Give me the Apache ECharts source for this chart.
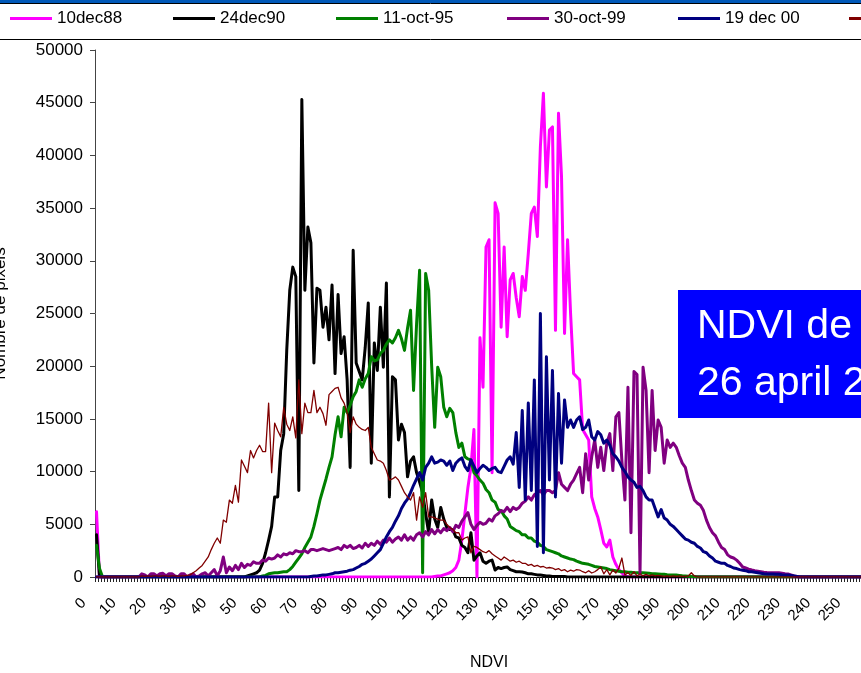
<!DOCTYPE html>
<html><head><meta charset="utf-8">
<script src="https://cdn.jsdelivr.net/npm/echarts@6/dist/echarts.min.js"></script>
<style>html,body{margin:0;padding:0;background:#fff;}#c{width:861px;height:673px;}</style>
</head><body><div id="c"></div>
<script>
// NDVI categories 0..255 (tick labels shown every 10)
const categories = [];
for (let i = 0; i < 256; i++) categories.push(String(i));

const seriesNames = ['10dec88', '24dec90', '11-oct-95', '30-oct-99', '19 dec 00', '26 april 02'];

const dec88 = [
6200,0,0,0,0,0,0,0,0,0,
0,0,0,0,0,0,0,0,0,0,
0,0,0,0,0,0,0,0,0,0,
0,0,0,0,0,0,0,0,0,0,
0,0,0,0,0,0,0,0,0,0,
0,0,0,0,0,0,0,0,0,0,
0,0,0,0,0,0,0,0,0,0,
0,0,0,0,0,0,0,0,0,0,
0,0,0,0,0,0,0,0,0,0,
0,0,0,0,0,0,0,0,0,0,
0,0,0,0,0,0,0,0,0,0,
0,0,50,100,100,200,300,400,600,900,
1600,3500,6000,8500,10400,14000,0,22700,18000,31300,
32000,9900,35500,34500,23700,31300,22800,28200,28800,26500,
24700,28500,27200,30700,34500,35100,32300,40800,45900,37000,
42400,42700,23400,44000,38000,23100,32000,25000,19300,19000,
18700,14000,13500,13000,7600,6500,5700,4500,3200,2850,
3500,1900,1200,700,380,100,0,0,0,0,
0,0,0,0,0,0,0,0,0,0,
0,0,0,0,0,0,0,0,0,0,
0,0,0,0,0,0,0,0,0,0,
0,0,0,0,0,0,0,0,0,0,
0,0,0,0,0,0,0,0,0,0,
0,0,0,0,0,0,0,0,0,0,
0,0,0,0,0,0,0,0,0,0,
0,0,0,0,0,0
];

const dec90 = [
4000,0,0,0,0,0,0,0,0,0,
0,0,0,0,0,0,0,0,0,0,
0,0,0,0,0,0,0,0,0,0,
0,0,0,0,0,0,0,0,0,0,
0,0,0,0,0,0,0,0,0,0,
100,200,300,400,660,1300,2300,3500,4800,7600,
7600,12000,13600,21500,27200,29400,28500,8200,45300,27200,
33200,31700,20300,27400,27200,23700,25600,22500,27700,19300,
26800,21200,22800,18700,10400,31000,20300,19500,18700,21800,
26000,10800,22200,19600,25600,19900,27900,7600,19000,18700,
13000,14500,13700,9500,11000,11400,9900,9000,8000,6000,
4200,7300,5500,4700,6600,5500,4700,4500,4500,3800,
3700,3000,2800,2300,4200,1600,2000,2300,1500,1300,
1500,1600,660,900,800,900,950,700,600,500,
500,470,400,300,300,250,200,190,150,100,
100,50,50,50,50,50,0,0,0,0,
0,0,0,0,0,0,0,0,0,0,
0,0,0,0,0,0,0,0,0,0,
0,0,0,0,0,0,0,0,0,0,
0,0,0,0,0,0,0,0,0,0,
0,0,0,0,0,0,0,0,0,0,
0,0,0,0,0,0,0,0,0,0,
0,0,0,0,0,0,0,0,0,0,
0,0,0,0,0,0,0,0,0,0,
0,0,0,0,0,0,0,0,0,0,
0,0,0,0,0,0
];

const oct95 = [
3000,800,0,0,0,0,0,0,0,0,
0,0,0,0,0,0,0,0,0,0,
0,0,0,0,0,0,0,0,0,0,
0,0,0,0,0,0,0,0,0,0,
0,0,0,0,0,0,0,0,0,0,
0,0,0,0,0,100,150,300,350,400,
400,450,500,500,700,1000,1400,1800,2200,2800,
3300,3800,4800,6000,7300,8300,9300,10400,11400,13500,
15200,13300,16100,15600,16300,17100,17600,18700,18000,18800,
19300,20900,20500,20600,21200,21500,22100,22500,22200,22700,
23400,22600,21500,23600,25300,17700,24000,29100,400,28800,
27200,20000,14200,19900,19000,16100,15200,16000,15600,13700,
12300,12700,11400,11200,11100,9900,9600,9200,8900,8300,
8000,7300,7100,6400,6300,5800,5500,4800,4600,4400,
4300,4000,4000,3700,3700,3400,3300,3000,2900,2600,
2500,2400,2300,2200,2000,1900,1800,1700,1650,1500,
1400,1300,1250,1200,1100,1000,950,900,850,800,
700,650,600,550,500,500,450,450,400,400,
400,400,380,350,300,300,280,250,250,220,
200,200,180,150,120,100,80,50,30,0,
0,0,0,0,0,0,0,0,0,0,
0,0,0,0,0,0,0,0,0,0,
0,0,0,0,0,0,0,0,0,0,
0,0,0,0,0,0,0,0,0,0,
0,0,0,0,0,0,0,0,0,0,
0,0,0,0,0,0
];

const oct99 = [
0,0,0,0,0,0,0,0,0,0,
0,0,0,0,0,300,200,0,300,300,
100,300,350,100,300,300,100,0,300,300,
0,200,300,0,100,300,400,100,400,700,
100,600,1900,400,950,600,1100,700,1300,900,
1200,1100,1450,1300,1300,1600,1500,1800,1700,1800,
2100,1900,2200,2100,2300,2200,2500,2400,2400,2500,
2300,2600,2600,2500,2600,2700,2600,2500,2600,2700,
2800,2600,3000,2800,3000,2700,2800,3000,2750,3200,
2900,3200,3000,3400,3100,3500,3300,3700,3300,3600,
3800,3500,4000,3500,3800,3500,4000,4200,3800,4300,
4000,4500,4100,4500,4200,4600,4400,4700,4300,4900,
4700,5300,5700,6100,5000,4500,4900,5200,5000,5100,
5500,5300,5800,6000,6300,6200,6600,6200,6600,6400,
6600,7000,7200,7600,7300,7800,8000,8200,7800,8200,
8200,8000,8200,9900,8800,8500,8200,8800,9200,9800,
10400,8000,11700,9200,11400,13000,10400,12300,10100,12700,
13600,10100,15200,15600,11000,7300,18000,4200,19500,19200,
400,19900,17700,9900,17700,12000,14900,14200,10800,13000,
12300,12700,12300,11500,10800,10400,9200,8200,7300,7000,
6800,6300,5400,4700,4200,3900,3300,2800,2600,2100,
1900,1800,1600,1300,950,850,750,660,600,550,
500,450,420,400,400,400,400,350,300,280,
200,100,50,0,0,0,0,0,0,0,
0,0,0,0,0,0,0,0,0,0,
0,0,0,0,0,0
];

const dec00 = [
0,0,0,0,0,0,0,0,0,0,
0,0,0,0,0,0,0,0,0,0,
0,0,0,0,0,0,0,0,0,0,
0,0,0,0,0,0,0,0,0,0,
0,0,0,0,0,0,0,0,0,0,
0,0,0,0,0,0,0,0,0,0,
0,0,0,0,0,0,0,0,0,0,
0,50,100,100,150,200,200,250,300,400,
400,450,500,550,650,700,850,1000,1200,1300,
1500,1700,2000,2300,2600,3200,3800,4300,4700,5300,
5800,6500,7000,7400,8000,8700,9300,9900,9200,10400,
10800,11400,10800,10900,11100,11000,10600,11000,10100,10800,
11100,11300,10500,10100,11100,10500,9900,10300,10600,10400,
10100,10300,10400,10000,9900,10500,11100,11400,10700,13700,
8500,15800,7300,16500,8200,18700,2900,25000,2300,20900,
9200,19600,7600,17400,10800,16800,14200,14900,14200,14900,
15200,14000,14200,14900,13300,13000,13800,13500,12700,13000,
12500,11700,11400,11000,10400,10000,9500,9200,9000,8500,
8600,8200,7600,7300,7300,6500,5700,6400,5600,5400,
5000,4800,4500,4200,3900,3600,3500,3300,3200,2900,
2750,2400,2300,2000,1800,1500,1400,1300,1300,1100,
1000,850,800,700,650,600,500,500,450,400,
350,300,280,280,280,250,250,220,200,200,
150,100,50,0,0,0,0,0,0,0,
0,0,0,0,0,0,0,0,0,0,
0,0,0,0,0,0
];

const apr02 = [
0,0,0,0,0,0,0,0,0,0,
0,0,0,0,0,100,50,100,50,100,
100,50,100,100,50,100,100,50,100,100,
150,200,400,600,850,1100,1500,1900,2600,3200,
3700,3200,5400,5200,7300,7000,8700,7100,11100,10500,
9900,12000,11300,12000,12500,11900,11900,16500,9900,14600,
13900,13300,16100,14500,13900,15200,13200,18700,13600,16500,
15600,15600,17700,15600,16100,15500,14400,17300,17600,17900,
18000,17000,16500,15600,13700,15200,14500,14200,14000,13900,
14200,12300,11700,11100,11000,10800,10100,9200,9300,9500,
9200,8600,8000,7600,7300,8000,5400,7600,6600,8000,
5700,5700,5600,5500,5400,5400,5000,4700,4500,4200,
4200,3500,3700,3800,2300,2900,2800,2600,2400,2300,
2500,2200,2000,1800,1600,1900,1700,1500,1600,1400,
1500,1300,1300,1100,1200,1000,1100,950,1000,850,
900,850,700,800,600,700,500,650,550,700,
660,500,400,600,380,500,700,950,300,700,
200,660,380,850,1800,200,400,150,500,100,
300,100,250,100,200,100,150,100,50,100,
50,100,50,100,50,50,100,400,100,0,
0,0,0,0,0,0,0,0,0,0,
0,0,0,0,0,0,0,0,0,0,
0,0,0,0,0,0,0,0,0,0,
0,0,0,0,0,0,0,0,0,0,
0,0,0,0,0,0,0,0,0,0,
0,0,0,0,0,0
];

const seriesData = [dec88, dec90, oct95, oct99, dec00, apr02];
const seriesColors = ['#FF00FF', '#000000', '#008000', '#800080', '#000080', '#800000'];
const seriesWidths = [3, 3, 3, 3, 3, 1.3];
const legendLeft = [10, 173, 336, 507, 678, 849];

const FONT = 'Liberation Sans, Arial, sans-serif';

const chart = echarts.init(document.getElementById('c'), null, {renderer: 'canvas'});

const option = {
  animation: false,
  backgroundColor: '#ffffff',
  textStyle: {fontFamily: FONT},
  grid: {left: 95, top: 50, width: 773, height: 527, outerBoundsMode: 'none', containLabel: false},
  legend: seriesNames.map((n, i) => ({
    data: [n],
    left: legendLeft[i],
    top: 10,
    padding: 0,
    icon: 'rect',
    itemWidth: 42,
    itemHeight: 3,
    selectedMode: false,
    textStyle: {fontSize: 17, fontFamily: FONT, color: '#000'}
  })),
  xAxis: {
    type: 'category',
    data: categories,
    boundaryGap: true,
    name: 'NDVI',
    nameLocation: 'middle',
    nameGap: 78,
    nameTextStyle: {fontSize: 16, fontFamily: FONT, color: '#000', padding: [0, 0, 0, 15]},
    axisLine: {show: true, lineStyle: {color: '#000', width: 1}},
    axisTick: {show: true, interval: 0, length: 5, inside: false, lineStyle: {color: '#222', width: 1}},
    axisLabel: {interval: 9, rotate: 45, fontSize: 15, fontFamily: FONT, color: '#000', margin: 11, padding: [0, 18, 0, 0]},
    splitLine: {show: false}
  },
  yAxis: {
    type: 'value',
    min: 0,
    max: 50000,
    interval: 5000,
    name: 'Nombre de pixels',
    nameLocation: 'middle',
    nameRotate: 90,
    nameGap: 86,
    nameMoveOverlap: false,
    nameTextStyle: {fontSize: 17, fontFamily: FONT, color: '#000'},
    axisLine: {show: true, lineStyle: {color: '#444', width: 1}},
    axisTick: {show: true, inside: false, length: 5, lineStyle: {color: '#444', width: 1}},
    axisLabel: {fontSize: 17, fontFamily: FONT, color: '#000', margin: 12, formatter: function (v) { return String(v); }},
    splitLine: {show: false}
  },
  series: seriesNames.map((n, i) => ({
    name: n,
    type: 'line',
    data: seriesData[i],
    symbol: 'none',
    showSymbol: false,
    silent: true,
    color: seriesColors[i],
    itemStyle: {color: seriesColors[i]},
    lineStyle: {color: seriesColors[i], width: seriesWidths[i], join: 'round', cap: 'round'},
    emphasis: {disabled: true}
  })),
  graphic: [
    {type: 'rect', shape: {x: 0, y: 0, width: 861, height: 3}, style: {fill: '#0058b8'}, z: 100, silent: true},
    {type: 'line', shape: {x1: 0, y1: 3.5, x2: 861, y2: 3.5}, style: {stroke: '#000', lineWidth: 1}, z: 100, silent: true},
    {type: 'line', shape: {x1: 0, y1: 39.5, x2: 861, y2: 39.5}, style: {stroke: '#000', lineWidth: 1}, z: 100, silent: true},
    {type: 'rect', shape: {x: 678, y: 290, width: 220, height: 128}, style: {fill: '#0000FF'}, z: 100, silent: true},
    {type: 'text', x: 697, y: 327, style: {text: 'NDVI de', fill: '#fff', font: '41px ' + FONT, textAlign: 'left', textVerticalAlign: 'middle', verticalAlign: 'middle'}, z: 101, silent: true},
    {type: 'text', x: 697, y: 384, style: {text: '26 april 2002', fill: '#fff', font: '41px ' + FONT, textAlign: 'left', textVerticalAlign: 'middle', verticalAlign: 'middle'}, z: 101, silent: true}
  ]
};
chart.setOption(option);
</script>
</body></html>
